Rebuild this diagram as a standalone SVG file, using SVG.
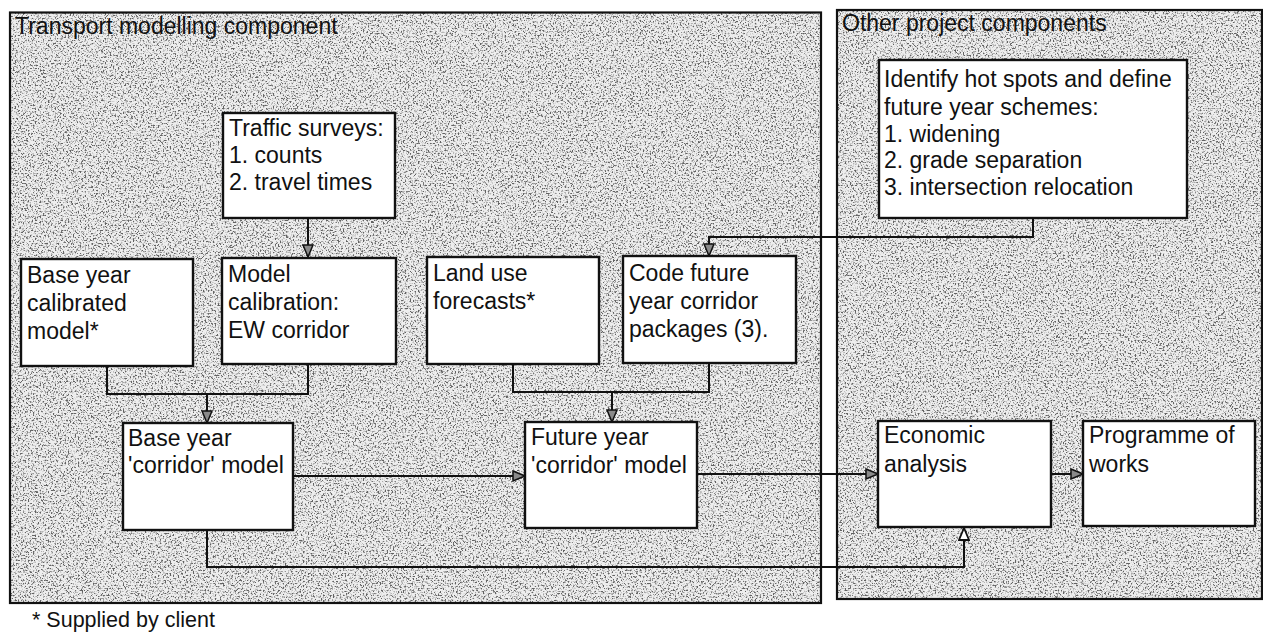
<svg xmlns="http://www.w3.org/2000/svg" width="1263" height="636" viewBox="0 0 1263 636">
<defs>
  <filter id="stip" x="0" y="0" width="100%" height="100%">
    <feFlood flood-color="#eeeeee" result="bg"/>
    <feTurbulence type="fractalNoise" baseFrequency="0.6" numOctaves="2" seed="7" result="noise"/>
    <feColorMatrix in="noise" type="matrix" values="0 0 0 0 0.12  0 0 0 0 0.12  0 0 0 0 0.12  5 0 0 0 -2.45" result="dots"/>
    <feComposite in="dots" in2="bg" operator="over" result="m"/>
    <feComposite in="m" in2="SourceGraphic" operator="in"/>
  </filter>
  <marker id="arr" markerUnits="userSpaceOnUse" markerWidth="14" markerHeight="12" refX="12" refY="5" orient="auto" viewBox="-1 -1 14 12">
    <path d="M0,0 L12,5 L0,10 Z" fill="#8a8a8a" stroke="#111" stroke-width="1.5" stroke-linejoin="miter"/>
  </marker>
  <marker id="arrw" markerUnits="userSpaceOnUse" markerWidth="14" markerHeight="12" refX="12" refY="5" orient="auto" viewBox="-1 -1 14 12">
    <path d="M0,0 L12,5 L0,10 Z" fill="#ffffff" stroke="#111" stroke-width="1.8"/>
  </marker>
</defs>
<style>
  .box { fill: #ffffff; stroke: #111; stroke-width: 2.4; }
  .t { font-family: "Liberation Sans", Arial, sans-serif; font-size: 23px; fill: #111; }
  .ft { font-family: "Liberation Sans", Arial, sans-serif; font-size: 21.5px; fill: #111; }
  .c { fill: none; stroke: #111; stroke-width: 2; }
</style>
<rect width="1263" height="636" fill="#ffffff"/>

<g id="panel-transport">
  <rect x="10" y="12.5" width="811" height="590.5" fill="#c8c8c8" filter="url(#stip)"/>
  <rect x="10" y="12.5" width="811" height="590.5" fill="none" stroke="#111" stroke-width="2.2"/>
  <text class="t" x="15" y="34">Transport modelling component</text>
</g>
<g id="panel-other">
  <rect x="837" y="10" width="425" height="589" fill="#c8c8c8" filter="url(#stip)"/>
  <rect x="837" y="10" width="425" height="589" fill="none" stroke="#111" stroke-width="2.2"/>
  <text class="t" x="842" y="31">Other project components</text>
</g>

<g id="connectors">
  <path class="c" d="M308,218 V257" marker-end="url(#arr)"/>
  <path class="c" d="M107,366 V394 H308 V364"/>
  <path class="c" d="M207,394 V423" marker-end="url(#arr)"/>
  <path class="c" d="M513,364 V392 H709 V363"/>
  <path class="c" d="M612,392 V422" marker-end="url(#arr)"/>
  <path class="c" d="M1033,218 V237 H709 V256" marker-end="url(#arr)"/>
  <path class="c" d="M293,476 H525" marker-end="url(#arr)"/>
  <path class="c" d="M697,474 H878" marker-end="url(#arr)"/>
  <path class="c" d="M1051,474 H1083" marker-end="url(#arr)"/>
  <path class="c" d="M207,530 V567 H964 V528" marker-end="url(#arrw)"/>
</g>

<g id="traffic-surveys">
  <rect class="box" x="223" y="113" width="172" height="105"/>
  <text class="t" x="229" y="136">Traffic surveys:</text>
  <text class="t" x="229" y="163">1. counts</text>
  <text class="t" x="229" y="190">2. travel times</text>
</g>
<g id="base-year-calibrated">
  <rect class="box" x="21" y="259" width="172" height="107"/>
  <text class="t" x="27" y="283">Base year</text>
  <text class="t" x="27" y="311">calibrated</text>
  <text class="t" x="27" y="339">model*</text>
</g>
<g id="model-calibration">
  <rect class="box" x="222" y="258" width="174" height="106"/>
  <text class="t" x="228" y="282">Model</text>
  <text class="t" x="228" y="310">calibration:</text>
  <text class="t" x="228" y="338">EW corridor</text>
</g>
<g id="land-use">
  <rect class="box" x="427" y="257" width="172" height="107"/>
  <text class="t" x="433" y="281">Land use</text>
  <text class="t" x="433" y="309">forecasts*</text>
</g>
<g id="code-future">
  <rect class="box" x="623" y="256" width="173" height="107"/>
  <text class="t" x="629" y="281">Code future</text>
  <text class="t" x="629" y="309">year corridor</text>
  <text class="t" x="629" y="337">packages (3).</text>
</g>
<g id="base-year-corridor">
  <rect class="box" x="123" y="423" width="170" height="107"/>
  <text class="t" x="128" y="446">Base year</text>
  <text class="t" x="128" y="473">'corridor' model</text>
</g>
<g id="future-year-corridor">
  <rect class="box" x="525" y="422" width="172" height="106"/>
  <text class="t" x="531" y="445">Future year</text>
  <text class="t" x="531" y="473">'corridor' model</text>
</g>
<g id="identify-hot-spots">
  <rect class="box" x="879" y="60" width="308" height="158"/>
  <text class="t" x="884" y="87">Identify hot spots and define</text>
  <text class="t" x="884" y="115">future year schemes:</text>
  <text class="t" x="884" y="142">1. widening</text>
  <text class="t" x="884" y="168">2. grade separation</text>
  <text class="t" x="884" y="195">3. intersection relocation</text>
</g>
<g id="economic-analysis">
  <rect class="box" x="878" y="421" width="173" height="106"/>
  <text class="t" x="884" y="443">Economic</text>
  <text class="t" x="884" y="472">analysis</text>
</g>
<g id="programme-of-works">
  <rect class="box" x="1083" y="421" width="172" height="105"/>
  <text class="t" x="1089" y="443">Programme of</text>
  <text class="t" x="1089" y="472">works</text>
</g>

<text class="ft" x="32" y="627">* Supplied by client</text>
</svg>
